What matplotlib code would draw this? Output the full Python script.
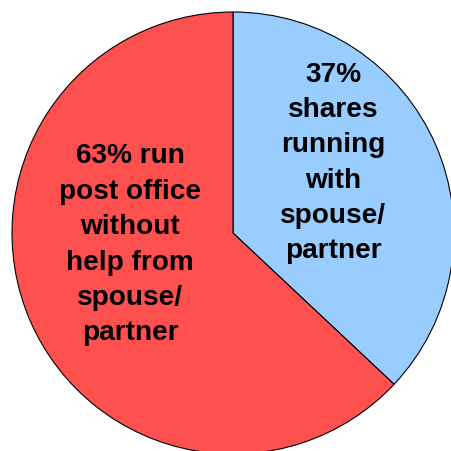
import matplotlib
matplotlib.use("Agg")
import matplotlib.pyplot as plt

labels = ["37%\nshares\nrunning\nwith\nspouse/\npartner",
          "63% run\npost office\nwithout\nhelp from\nspouse/\npartner"]
shares = [37, 63]
colors = ["#99CCFF", "#FF5050"]

W, H = 451, 452
fig = plt.figure(figsize=(W / 100, H / 100), dpi=100)
ax = fig.add_axes([0, 0, 1, 1])

cx, cy, r = 233, H - 234, 221
ax.pie(shares, colors=colors, startangle=90, counterclock=False,
       center=(cx, cy), radius=r, frame=True,
       wedgeprops=dict(edgecolor="black", linewidth=0.8))
ax.set_xlim(0, W)
ax.set_ylim(0, H)
ax.set_aspect("equal")
ax.axis("off")

text_pos = [(333, H - 163), (130, H - 245)]
for lab, (x, y) in zip(labels, text_pos):
    ax.text(x, y, lab, ha="center", va="center", fontsize=20.2,
            fontweight="bold", family="Liberation Sans", linespacing=1.47)

fig.savefig("out.png", dpi=100)
